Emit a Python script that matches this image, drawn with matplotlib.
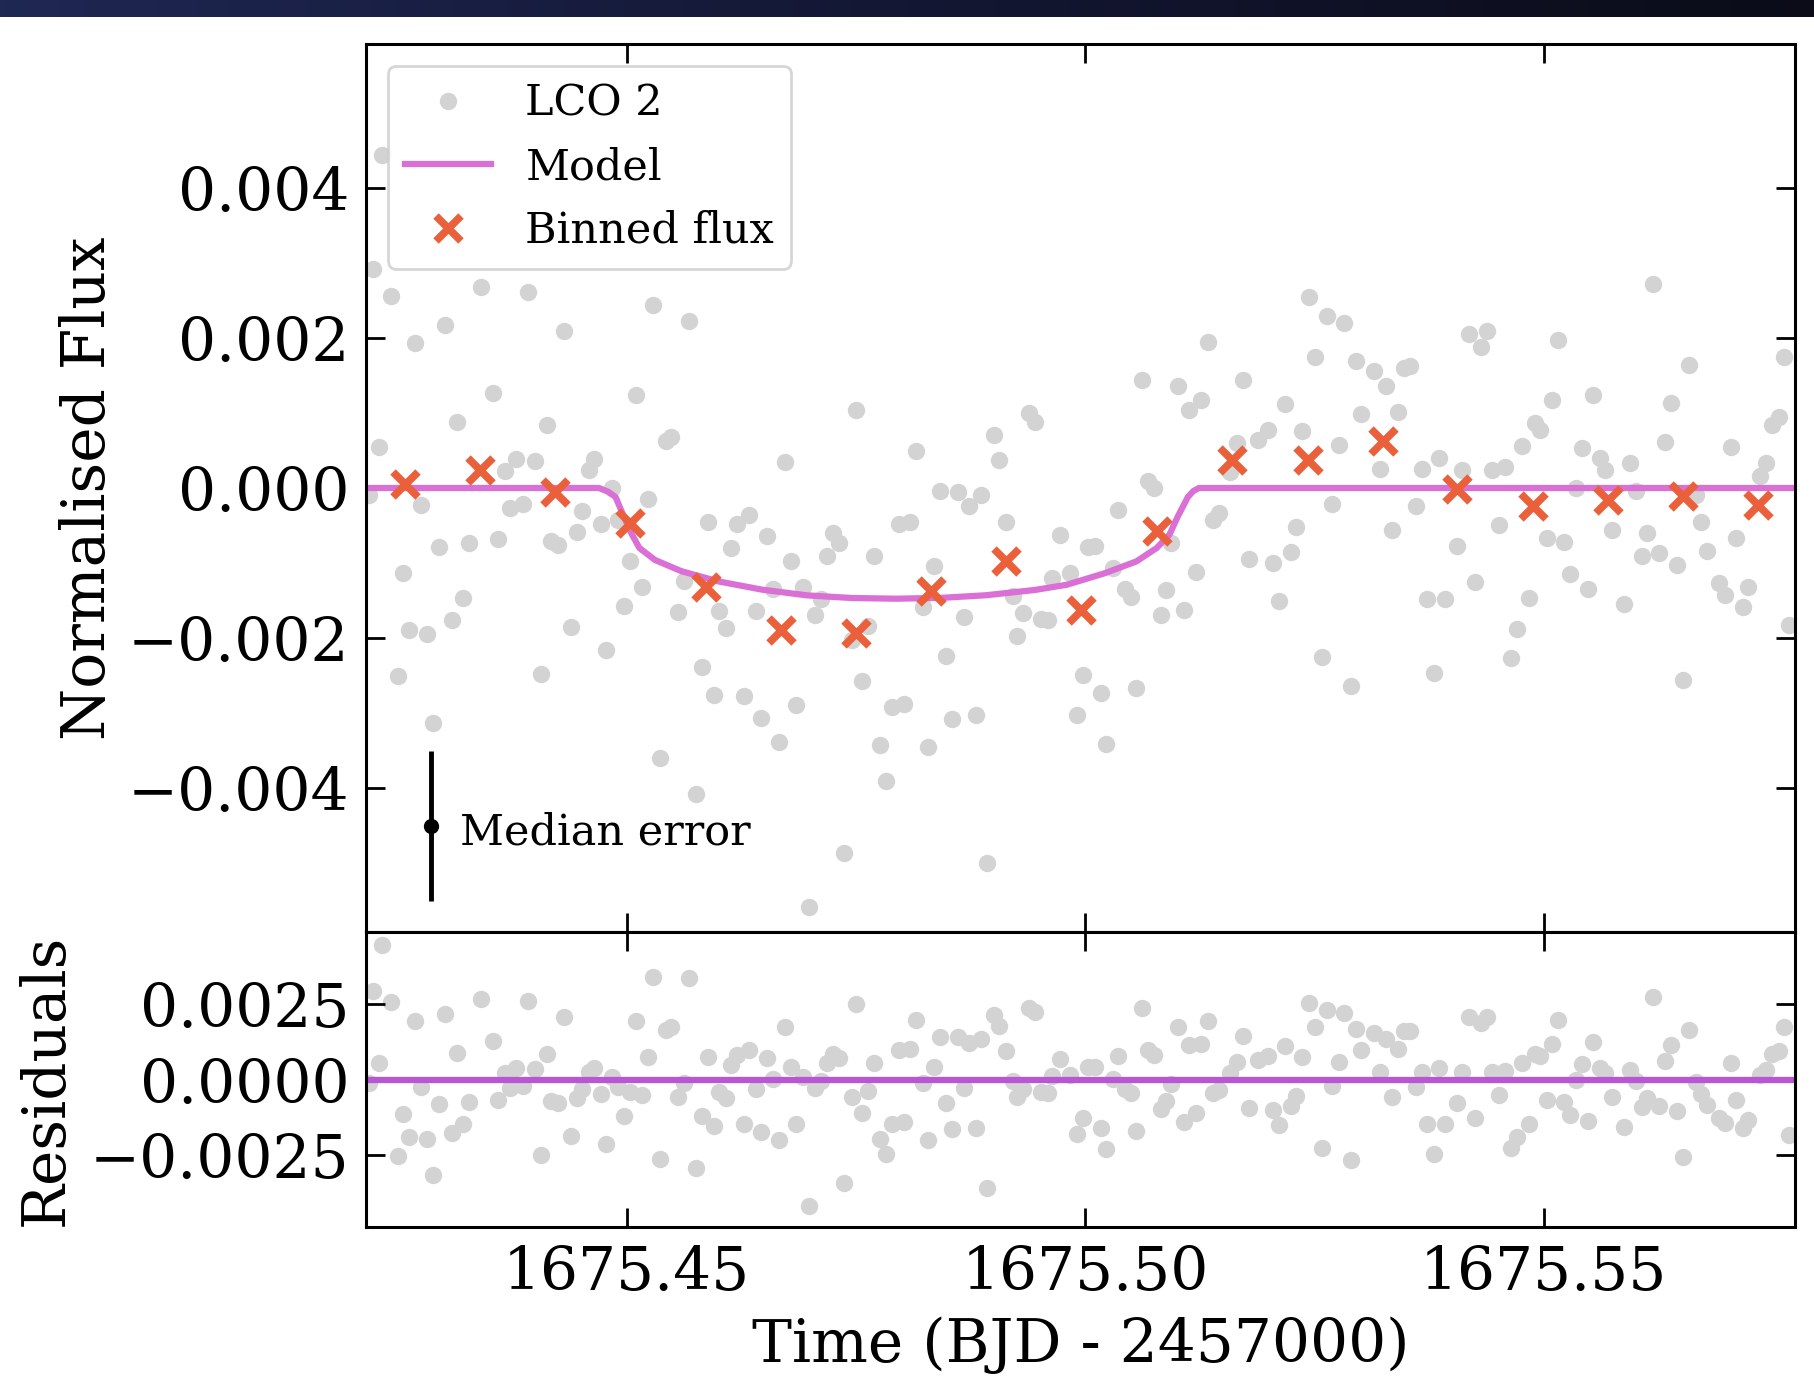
import numpy as np
import matplotlib
matplotlib.use("Agg")
import matplotlib.pyplot as plt
from matplotlib.colors import LinearSegmentedColormap

plt.rcParams['font.family'] = 'serif'
plt.rcParams['font.serif'] = ['DejaVu Serif']

# LCO 2 photometry (BJD - 2457000), flux in ppt
time = [
    1675.4233, 1675.4224, 1675.42435, 1675.43408, 1675.43929, 1675.43019, 1675.42698, 1675.44323,
    1675.45292, 1675.45686, 1675.4354, 1675.45102, 1675.4315, 1675.44129, 1675.42299, 1675.47506,
    1675.49385, 1675.49453, 1675.45487, 1675.45428, 1675.49001, 1675.48154, 1675.49064, 1675.46728,
    1675.43798, 1675.44002, 1675.43671, 1675.44649, 1675.44586, 1675.44844, 1675.42192, 1675.42761,
    1675.43734, 1675.43871, 1675.44513, 1675.45233, 1675.48416, 1675.48611, 1675.48869, 1675.48738,
    1675.44718, 1675.44903, 1675.44455, 1675.45886, 1675.46207, 1675.46338, 1675.49132, 1675.47969,
    1675.4809, 1675.49721, 1675.42956, 1675.43282, 1675.43603, 1675.44172, 1675.44255, 1675.46144,
    1675.46533, 1675.47248, 1675.47312, 1675.45039, 1675.46791, 1675.4718, 1675.47701, 1675.48348,
    1675.42566, 1675.43214, 1675.4517, 1675.45623, 1675.46596, 1675.46922, 1675.47117, 1675.49638,
    1675.4921, 1675.44976, 1675.4556, 1675.46012, 1675.46411, 1675.47054, 1675.48227, 1675.48674,
    1675.49327, 1675.49521, 1675.49599, 1675.4263, 1675.42824, 1675.43092, 1675.44391, 1675.4608,
    1675.47628, 1675.47458, 1675.49258, 1675.44781, 1675.4848, 1675.42503, 1675.44065, 1675.45818,
    1675.4757, 1675.45949, 1675.46275, 1675.46849, 1675.47896, 1675.48027, 1675.42892, 1675.4647,
    1675.48543, 1675.48806, 1675.46664, 1675.47764, 1675.48285, 1675.45365, 1675.45754, 1675.47833,
    1675.47375, 1675.48932, 1675.46986,
    1675.56194, 1675.52443, 1675.52635, 1675.52822, 1675.54182, 1675.54381, 1675.54313, 1675.55157,
    1675.51337, 1675.52505, 1675.52958, 1675.53151, 1675.53276, 1675.53474, 1675.53542, 1675.56579,
    1675.57622, 1675.50623, 1675.51009, 1675.51723, 1675.51264, 1675.51133, 1675.55095, 1675.55542,
    1675.56392, 1675.52182, 1675.53009, 1675.53406, 1675.54902, 1675.54959, 1675.57565, 1675.57486,
    1675.51989, 1675.51887, 1675.52369, 1675.5166, 1675.52766, 1675.55412, 1675.56324, 1675.57044,
    1675.54766, 1675.53859, 1675.5561, 1675.55673, 1675.55939, 1675.57424, 1675.57356, 1675.53219,
    1675.53672, 1675.54114, 1675.54437, 1675.54579, 1675.51575, 1675.50686, 1675.50754, 1675.55355,
    1675.56007, 1675.56664, 1675.52692, 1675.53604, 1675.50363, 1675.51462, 1675.51394, 1675.54511,
    1675.56715, 1675.52301, 1675.53344, 1675.55741, 1675.56126, 1675.55032, 1675.55219, 1675.57101,
    1675.50034, 1675.50102, 1675.50935, 1675.54058, 1675.51791, 1675.52046, 1675.52244, 1675.56069,
    1675.56262, 1675.56449, 1675.56778, 1675.503, 1675.49836, 1675.51207, 1675.55287, 1675.5425,
    1675.50431, 1675.50499, 1675.50884, 1675.55486, 1675.54834, 1675.56914, 1675.56976, 1675.57231,
    1675.53729, 1675.53927, 1675.52114, 1675.50822, 1675.51077, 1675.55871, 1675.57169, 1675.57679,
    1675.54709, 1675.52579, 1675.54647, 1675.49977, 1675.53803, 1675.56523, 1675.5017, 1675.50555,
    1675.52896, 1675.49915, 1675.50232,
]
flux_ppt = [
    4.44, 2.92, 2.555, 2.675, 2.613, 2.168, 1.933, 2.088,
    2.435, 2.221, 1.266, 1.235, 0.875, 0.835, 0.541, 1.039,
    0.999, 0.879, 0.675, 0.621, 0.711, 0.493, 0.368, 0.341,
    0.39, 0.359, 0.221, 0.39, 0.244, 0.0, -0.099, -0.232,
    -0.267, -0.21, -0.312, -0.143, -0.045, -0.054, -0.09, -0.236,
    -0.476, -0.423, -0.587, -0.454, -0.476, -0.356, -0.454, -0.481,
    -0.454, -0.623, -0.787, -0.739, -0.681, -0.703, -0.756, -0.801,
    -0.645, -0.601, -0.734, -0.979, -0.97, -0.903, -0.912, -1.045,
    -1.134, -1.472, -1.325, -1.236, -1.347, -1.325, -1.476, -1.2,
    -1.445, -1.579, -1.658, -1.636, -1.636, -1.698, -1.592, -1.72,
    -1.667, -1.747, -1.765, -1.89, -1.947, -1.756, -1.858, -1.867,
    -1.845, -2.023, -1.97, -2.156, -2.236, -2.512, -2.476, -2.392,
    -2.57, -2.756, -2.778, -2.889, -2.92, -2.876, -3.134, -3.067,
    -3.076, -3.023, -3.387, -3.423, -3.454, -3.6, -4.076, -3.912,
    -4.867, -5.0, -5.587,
    2.719, 2.541, 2.297, 2.2, 2.057, 2.088, 1.88, 1.968,
    1.942, 1.742, 1.688, 1.555, 1.355, 1.6, 1.622, 1.644,
    1.742, 1.444, 1.364, 1.444, 1.168, 1.035, 1.177, 1.244,
    1.133, 1.12, 0.99, 1.013, 0.866, 0.777, 0.942, 0.844,
    0.777, 0.64, 0.755, 0.6, 0.577, 0.533, 0.608, 0.546,
    0.555, 0.4, 0.4, 0.235, 0.333, 0.333, 0.155, 0.257,
    0.253, 0.244, 0.244, 0.279, 0.208, 0.097, 0.0, 0.0,
    -0.045, -0.09, -0.209, -0.236, -0.29, -0.334, -0.432, -0.494,
    -0.458, -0.52, -0.556, -0.556, -0.601, -0.667, -0.721, -0.667,
    -0.792, -0.77, -0.734, -0.779, -0.947, -1.0, -0.854, -0.903,
    -0.867, -1.023, -0.836, -1.067, -1.134, -1.125, -1.147, -1.254,
    -1.343, -1.458, -1.365, -1.347, -1.467, -1.267, -1.432, -1.32,
    -1.476, -1.476, -1.503, -1.698, -1.623, -1.547, -1.587, -1.823,
    -1.88, -2.254, -2.267, -2.489, -2.467, -2.556, -2.734, -2.667,
    -2.645, -3.032, -3.409,
]

# binned flux
bin_time = [1675.42581, 1675.43403, 1675.44221, 1675.45034, 1675.45861, 1675.46679, 1675.47506,
            1675.48324, 1675.49137, 1675.4996, 1675.50782, 1675.51604, 1675.52426, 1675.53247,
            1675.54058, 1675.54879, 1675.55701, 1675.56523, 1675.57339]
bin_flux_ppt = [0.053, 0.244, -0.059, -0.467, -1.321, -1.889, -1.934,
                -1.378, -0.978, -1.623, -0.569, 0.377, 0.377, 0.622,
                -0.014, -0.236, -0.156, -0.112, -0.223]

# transit model
model_time = [1675.4216, 1675.4470, 1675.4480, 1675.4488, 1675.4497, 1675.4505, 1675.4514,
              1675.4531, 1675.4560, 1675.4600, 1675.4648, 1675.4697, 1675.4746, 1675.4794,
              1675.4843, 1675.4892, 1675.4945, 1675.4980, 1675.5022, 1675.5056, 1675.5078,
              1675.5092, 1675.5101, 1675.5112, 1675.5118, 1675.5124, 1675.5774]
model_flux_ppt = [0.0, 0.0, -0.05, -0.12, -0.38, -0.60, -0.80,
                  -0.96, -1.11, -1.245, -1.356, -1.432, -1.467, -1.476,
                  -1.465, -1.43, -1.36, -1.29, -1.134, -0.978, -0.80,
                  -0.62, -0.38, -0.12, -0.04, 0.0, 0.0]

median_err_ppt = 1.0

t = np.array(time)
f = np.array(flux_ppt) * 1e-3
order = np.argsort(t)
t, f = t[order], f[order]
mt = np.array(model_time)
mf = np.array(model_flux_ppt) * 1e-3
resid = f - np.interp(t, mt, mf)

fig = plt.figure(figsize=(18.15, 13.85), dpi=100)

# dark strip at the very top of the screenshot
bar = fig.add_axes([0, 1 - 17 / 1385, 1, 17 / 1385])
bar.imshow(np.linspace(0, 1, 256)[None, :], aspect='auto',
           cmap=LinearSegmentedColormap.from_list('bar', ['#1f2753', '#131733', '#0b0c18']))
bar.axis('off')

ax1 = fig.add_axes([0.2017, 0.3271, 0.7873, 0.6411])
ax2 = fig.add_axes([0.2017, 0.1141, 0.7873, 0.2130], sharex=ax1)

ax1.plot(t, f, 'o', color='lightgrey', ms=11.5, label='LCO 2', zorder=1)
ax1.plot(mt, mf, color='orchid', lw=4.5, label='Model', zorder=2)
ax1.plot(bin_time, np.array(bin_flux_ppt) * 1e-3, 'x', color='#e9603a', ms=18, mew=5.5,
         label='Binned flux', zorder=3)
ax1.errorbar(1675.4287, -4.51e-3, yerr=median_err_ppt * 1e-3, fmt='o', color='k', ms=10,
             elinewidth=3.5, capsize=0, zorder=4)
ax1.text(1675.4318, -4.6e-3, 'Median error', fontsize=31, va='center')
leg = ax1.legend(loc='upper left', fontsize=31)
leg.get_frame().set_linewidth(2)

ax2.plot(t, resid, 'o', color='lightgrey', ms=11.5, zorder=1)
ax2.axhline(0, color='mediumorchid', lw=4.5, zorder=2)

ax1.set_xlim(1675.4216, 1675.5774)
ax1.set_ylim(-0.00592, 0.00592)
ax2.set_ylim(-0.00486, 0.00488)
ax1.set_yticks([-0.004, -0.002, 0.0, 0.002, 0.004])
ax2.set_yticks([-0.0025, 0.0, 0.0025])
ax2.set_xticks([1675.45, 1675.50, 1675.55])
ax2.xaxis.get_major_formatter().set_useOffset(False)

for ax in (ax1, ax2):
    ax.tick_params(direction='in', top=True, right=True, length=14, width=2,
                   labelsize=43, pad=12)
    for s in ax.spines.values():
        s.set_linewidth(2.2)
ax1.tick_params(labelbottom=False)

ax1.set_ylabel('Normalised Flux', fontsize=43, labelpad=8)
ax2.set_ylabel('Residuals', fontsize=43, labelpad=11)
ax2.set_xlabel('Time (BJD - 2457000)', fontsize=43, labelpad=10)

fig.savefig('out.png', dpi=100)
